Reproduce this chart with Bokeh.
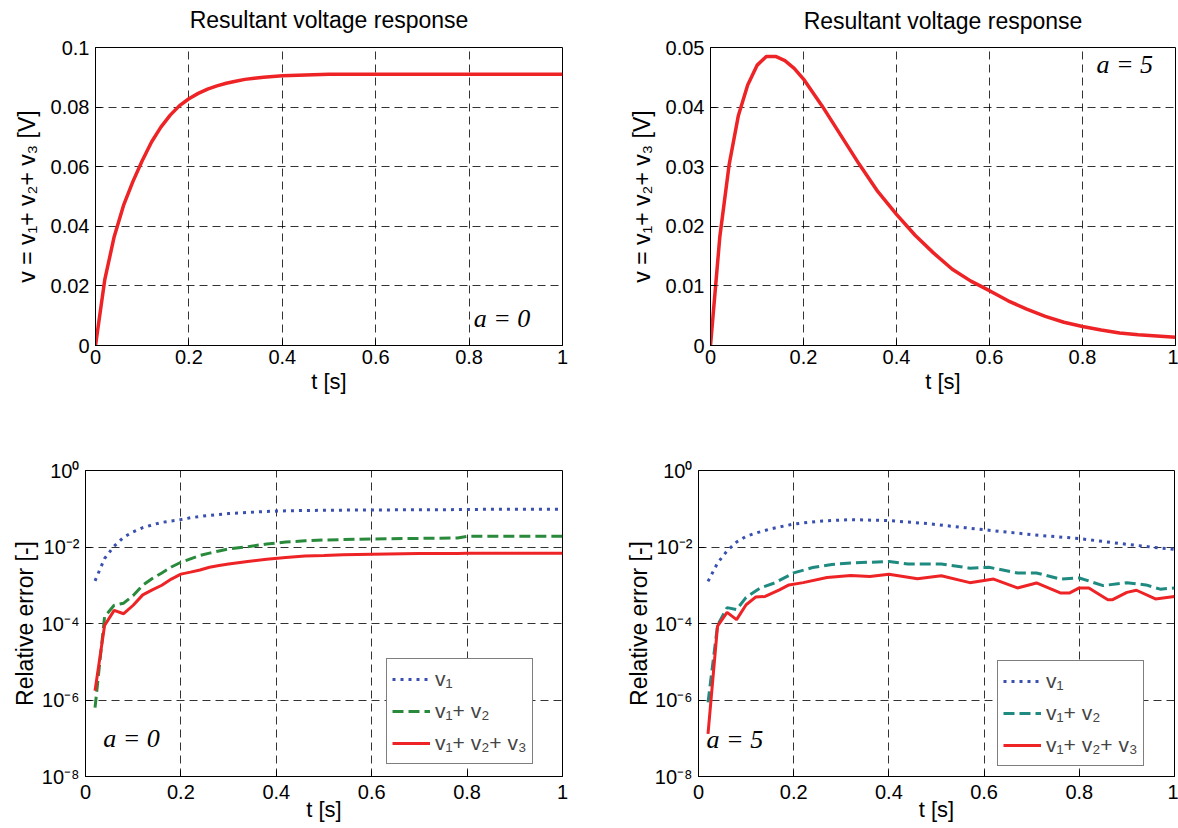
from bokeh.plotting import figure
from bokeh.layouts import column, row
from bokeh.models import Range1d, FixedTicker, CustomJSTickFormatter, Label, Title
from bokeh.embed import file_html
from bokeh.resources import INLINE

# ---------------- data ----------------
x_ticks = [0, 0.2, 0.4, 0.6, 0.8, 1.0]
y_ticks_a0 = [0, 0.02, 0.04, 0.06, 0.08, 0.1]
y_ticks_a5 = [0, 0.01, 0.02, 0.03, 0.04, 0.05]
y_ticks_err = [1e-8, 1e-6, 1e-4, 1e-2, 1.0]

t_a0 = [0, 0.02, 0.04, 0.06, 0.08, 0.10, 0.12, 0.14, 0.16, 0.18, 0.20, 0.22, 0.24, 0.26,
        0.28, 0.30, 0.32, 0.34, 0.36, 0.38, 0.40, 0.45, 0.50, 0.60, 0.70, 0.80, 0.90, 1.00]
v_a0 = [0, 0.0222, 0.0365, 0.0470, 0.0550, 0.0620, 0.0683, 0.0733, 0.0773, 0.0805, 0.0828,
        0.0846, 0.0860, 0.0871, 0.0880, 0.0887, 0.0893, 0.0897, 0.0900, 0.0903, 0.0905,
        0.0908, 0.0910, 0.0910, 0.0910, 0.0910, 0.0910, 0.0910]

t_a5 = [0, 0.02, 0.04, 0.06, 0.08, 0.10, 0.12, 0.14, 0.16, 0.18, 0.20, 0.24, 0.28, 0.32,
        0.36, 0.40, 0.44, 0.48, 0.52, 0.56, 0.60, 0.64, 0.68, 0.72, 0.76, 0.80, 0.84, 0.88,
        0.92, 0.96, 1.00]
v_a5 = [0.0, 0.0182, 0.0303, 0.0386, 0.0437, 0.0470, 0.0485, 0.0485, 0.0478, 0.0465, 0.0447,
        0.0402, 0.0353, 0.0304, 0.0258, 0.0220, 0.0185, 0.0155, 0.0128, 0.0108, 0.0092,
        0.0075, 0.0061, 0.0049, 0.0039, 0.0032, 0.0026, 0.0021, 0.0018, 0.0016, 0.0014]

t_err_a0 = [0.02, 0.04, 0.06, 0.08, 0.10, 0.12, 0.14, 0.16, 0.18, 0.20, 0.22, 0.24, 0.26,
            0.28, 0.30, 0.34, 0.38, 0.42, 0.46, 0.50, 0.54, 0.60, 0.70, 0.78, 0.80, 0.90, 1.00]
err_a0_v1 = [1.3e-3, 5.0e-3, 1.05e-2, 1.8e-2, 2.5e-2, 3.2e-2, 3.8e-2, 4.4e-2, 4.8e-2, 5.2e-2,
             5.8e-2, 6.3e-2, 6.7e-2, 7.1e-2, 7.5e-2, 8.0e-2, 8.5e-2, 8.8e-2, 9.0e-2, 9.1e-2,
             9.2e-2, 9.3e-2, 9.4e-2, 9.5e-2, 9.6e-2, 9.7e-2, 9.7e-2]
err_a0_v12 = [6.3e-7, 1.5e-4, 3.0e-4, 3.4e-4, 5.4e-4, 1.0e-3, 1.5e-3, 2.1e-3, 3.0e-3, 4.0e-3,
              4.9e-3, 6.0e-3, 6.9e-3, 7.9e-3, 8.9e-3, 1.02e-2, 1.2e-2, 1.35e-2, 1.45e-2,
              1.52e-2, 1.57e-2, 1.62e-2, 1.68e-2, 1.72e-2, 1.9e-2, 1.9e-2, 1.9e-2]
err_a0_v123 = [1.74e-6, 8.9e-5, 2.2e-4, 1.8e-4, 3.0e-4, 5.6e-4, 7.6e-4, 1.0e-3, 1.45e-3,
               1.95e-3, 2.2e-3, 2.5e-3, 2.95e-3, 3.3e-3, 3.6e-3, 4.2e-3, 4.8e-3, 5.3e-3,
               5.8e-3, 6.0e-3, 6.3e-3, 6.5e-3, 6.8e-3, 6.8e-3, 6.9e-3, 6.9e-3, 6.9e-3]

t_a5_v1 = [0.02, 0.04, 0.06, 0.08, 0.10, 0.12, 0.15, 0.20, 0.26, 0.32, 0.40, 0.48, 0.56,
           0.64, 0.72, 0.80, 0.87, 0.95, 1.00]
err_a5_v1 = [1.26e-3, 3.8e-3, 7.9e-3, 1.35e-2, 1.9e-2, 2.3e-2, 2.95e-2, 4.0e-2, 4.8e-2,
             5.2e-2, 4.9e-2, 4.1e-2, 3.2e-2, 2.5e-2, 2.0e-2, 1.66e-2, 1.3e-2, 1.0e-2, 8.7e-3]
t_a5_v12 = [0.02, 0.04, 0.06, 0.08, 0.10, 0.13, 0.16, 0.20, 0.24, 0.28, 0.32, 0.40, 0.44,
            0.51, 0.57, 0.61, 0.67, 0.71, 0.76, 0.80, 0.85, 0.90, 0.94, 0.97, 1.00]
err_a5_v12 = [8.7e-7, 9.0e-5, 2.6e-4, 2.3e-4, 4.8e-4, 8.5e-4, 1.15e-3, 2.1e-3, 2.9e-3, 3.5e-3,
              3.8e-3, 4.2e-3, 3.6e-3, 3.6e-3, 2.8e-3, 2.95e-3, 2.1e-3, 2.1e-3, 1.45e-3,
              1.55e-3, 9.8e-4, 1.17e-3, 1.02e-3, 7.9e-4, 8.5e-4]
t_a5_v123 = [0.02, 0.04, 0.06, 0.08, 0.10, 0.12, 0.14, 0.17, 0.19, 0.22, 0.27, 0.32, 0.36,
             0.40, 0.46, 0.51, 0.57, 0.62, 0.67, 0.71, 0.76, 0.78, 0.80, 0.82, 0.86, 0.87,
             0.90, 0.92, 0.96, 1.00]
err_a5_v123 = [1.3e-7, 8.5e-5, 1.95e-4, 1.26e-4, 3.1e-4, 4.9e-4, 5.1e-4, 7.6e-4, 1.02e-3,
               1.17e-3, 1.6e-3, 1.8e-3, 1.7e-3, 1.95e-3, 1.48e-3, 1.78e-3, 1.17e-3, 1.45e-3,
               8.5e-4, 1.15e-3, 6.3e-4, 6.3e-4, 8.5e-4, 8.5e-4, 4.2e-4, 4.2e-4, 6.5e-4,
               7.4e-4, 4.4e-4, 5.1e-4]

title_text = "Resultant voltage response"
ylabel_v = "v = v\u2081+ v\u2082+ v\u2083 [V]"
ylabel_err = "Relative error [-]"
xlabel = "t [s]"
legend_labels = ["v\u2081", "v\u2081+ v\u2082", "v\u2081+ v\u2082+ v\u2083"]

# ---------------- style ----------------
SANS = "Liberation Sans"
SERIF = "Liberation Serif"
RED = "#ee2326"
BLUE = "#3a50b0"
GREEN = "#2a8a3c"
TEAL = "#1f8a80"

lin_fmt = CustomJSTickFormatter(code="return String(Math.round(tick*1000)/1000);")
log_fmt = CustomJSTickFormatter(code="""
const sup = {"0":"\u2070","1":"\u00b9","2":"\u00b2","3":"\u00b3","4":"\u2074","5":"\u2075",
             "6":"\u2076","7":"\u2077","8":"\u2078","9":"\u2079","-":"\u207b"};
const e = Math.round(Math.log10(tick));
return "10" + String(e).split("").map(c => sup[c]).join("");
""")


def make_fig(width, height, left, right, top, bottom, yrange, yticks, log=False,
             xtick_standoff=4, xlab_standoff=2, ylab_standoff=8):
    kw = dict(width=width, height=height, min_border_left=left, min_border_right=right,
              min_border_top=top, min_border_bottom=bottom,
              x_range=Range1d(0, 1), y_range=yrange,
              output_backend="svg", toolbar_location=None)
    if log:
        kw["y_axis_type"] = "log"
    p = figure(**kw)
    p.background_fill_color = "white"
    p.border_fill_color = "white"
    p.outline_line_color = "black"
    p.outline_line_width = 1
    p.outline_line_alpha = 1
    xt = FixedTicker(ticks=x_ticks)
    yt = FixedTicker(ticks=yticks)
    p.xaxis.ticker = xt
    p.yaxis.ticker = yt
    p.xgrid.ticker = xt
    p.ygrid.ticker = yt
    p.xaxis.formatter = lin_fmt
    p.yaxis.formatter = log_fmt if log else lin_fmt
    for g in (p.xgrid, p.ygrid):
        g.grid_line_color = "black"
        g.grid_line_dash = "8 5"
        g.grid_line_width = 1
        g.grid_line_alpha = 0.8
    for ax in (p.xaxis, p.yaxis):
        ax.major_tick_in = 6
        ax.major_tick_out = 0
        ax.minor_tick_in = 0
        ax.minor_tick_out = 0
        ax.axis_line_color = "black"
        ax.major_tick_line_color = "black"
        ax.major_label_text_font = SANS
        ax.major_label_text_font_size = "20px"
        ax.major_label_text_color = "black"
        ax.axis_label_text_font = SANS
        ax.axis_label_text_font_size = "22px"
        ax.axis_label_text_font_style = "normal"
        ax.axis_label_text_color = "black"
    p.yaxis.axis_label_text_font_size = "23px"
    p.xaxis.axis_label = xlabel
    p.xaxis.major_label_standoff = xtick_standoff
    p.xaxis.axis_label_standoff = xlab_standoff
    p.yaxis.major_label_standoff = 6
    p.yaxis.axis_label_standoff = ylab_standoff
    return p


def add_title(p, gap_font, gap_standoff):
    # an empty spacer keeps the title a little above the frame
    p.add_layout(Title(text=" ", text_font=SANS, text_font_size=gap_font,
                       standoff=gap_standoff), "above")
    p.add_layout(Title(text=title_text, text_font=SANS, text_font_size="23px",
                       text_font_style="normal", text_color="black", align="center",
                       standoff=0), "above")


def add_note(p, x, y, text):
    p.add_layout(Label(x=x, y=y, text=text, text_font=SERIF, text_font_style="italic",
                       text_font_size="26px", text_color="black"))


def style_legend(p, loc):
    lg = p.legend[0]
    lg.location = loc
    lg.border_line_color = "black"
    lg.border_line_width = 1
    lg.background_fill_alpha = 1
    lg.label_text_font = SANS
    lg.label_text_font_size = "21px"
    lg.glyph_width = 38
    lg.glyph_height = 30
    lg.label_height = 30
    lg.spacing = 2
    lg.padding = 5
    lg.margin = 0
    lg.label_standoff = 5


# Top-left: a = 0 voltage
p1 = make_fig(600, 405, 95, 38, 47, 59, Range1d(0, 0.1), y_ticks_a0)
p1.yaxis.axis_label = ylabel_v
p1.line(t_a0, v_a0, line_color=RED, line_width=3.5)
add_title(p1, "10px", 2)
add_note(p1, 0.81, 0.0043, "a = 0")

# Top-right: a = 5 voltage
p2 = make_fig(578, 405, 110, 3, 43, 60, Range1d(0, 0.05), y_ticks_a5)
p2.yaxis.axis_label = ylabel_v
p2.line(t_a5, v_a5, line_color=RED, line_width=3.5)
add_title(p2, "10px", 1)
add_note(p2, 0.83, 0.0447, "a = 5")

# Bottom-left: a = 0 errors
p3 = make_fig(600, 421, 85, 38, 62, 50, Range1d(1e-8, 1), y_ticks_err, log=True,
              xtick_standoff=8, xlab_standoff=-5, ylab_standoff=1)
p3.yaxis.axis_label = ylabel_err
p3.line(t_err_a0, err_a0_v1, line_color=BLUE, line_width=3, line_dash="3 5",
        legend_label=legend_labels[0])
p3.line(t_err_a0, err_a0_v12, line_color=GREEN, line_width=3, line_dash="11 5",
        legend_label=legend_labels[1])
p3.line(t_err_a0, err_a0_v123, line_color=RED, line_width=3,
        legend_label=legend_labels[2])
add_note(p3, 0.037, 4.0e-8, "a = 0")
style_legend(p3, (301, 12))

# Bottom-right: a = 5 errors
p4 = make_fig(578, 421, 98, 4, 65, 50, Range1d(1e-8, 1), y_ticks_err, log=True,
              xtick_standoff=8, xlab_standoff=-5, ylab_standoff=0)
p4.yaxis.axis_label = ylabel_err
p4.line(t_a5_v1, err_a5_v1, line_color=BLUE, line_width=3, line_dash="3 5",
        legend_label=legend_labels[0])
p4.line(t_a5_v12, err_a5_v12, line_color=TEAL, line_width=3, line_dash="11 5",
        legend_label=legend_labels[1])
p4.line(t_a5_v123, err_a5_v123, line_color=RED, line_width=3,
        legend_label=legend_labels[2])
add_note(p4, 0.017, 3.8e-8, "a = 5")
style_legend(p4, (299, 10))

layout = column(row(p1, p2), row(p3, p4))
open("out.html", "w").write(file_html(layout, INLINE))
